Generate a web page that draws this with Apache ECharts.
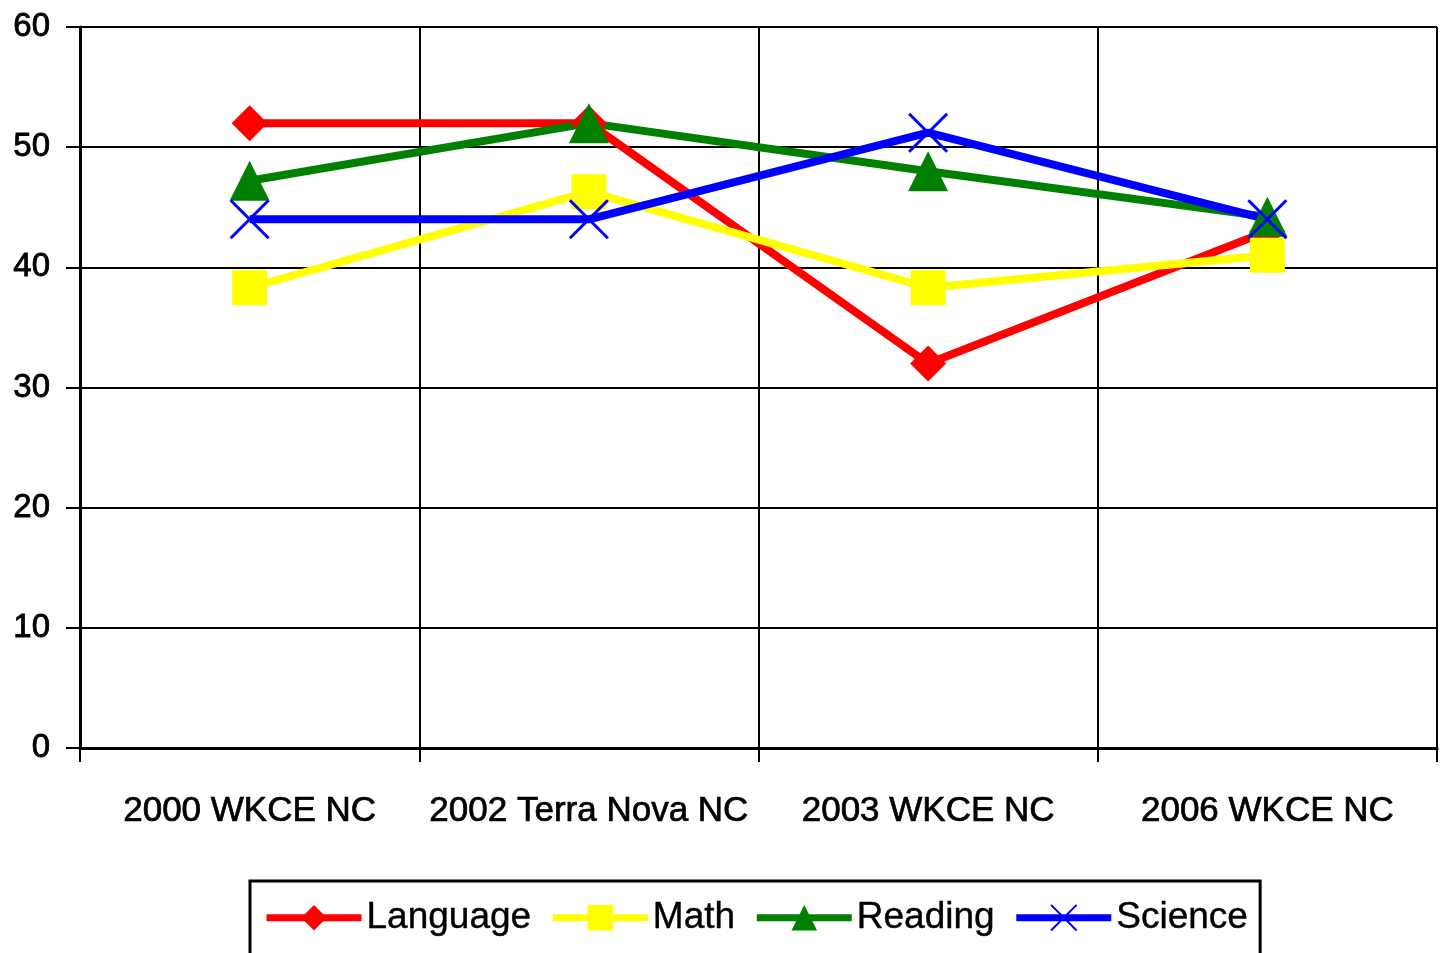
<!DOCTYPE html>
<html>
<head>
<meta charset="utf-8">
<script src="https://cdn.jsdelivr.net/npm/echarts@6/dist/echarts.min.js"></script>
<style>
  html, body { margin: 0; padding: 0; background: #fff; }
  #chart { width: 1445px; height: 953px; }
</style>
</head>
<body>
<div id="chart"></div>
<script>
const categories = ['2000 WKCE NC', '2002 Terra Nova NC', '2003 WKCE NC', '2006 WKCE NC'];
const language = [52, 52, 32, 43];
const math = [38.3, 46.3, 38.3, 41];
const reading = [47.2, 52, 48, 44.2];
const science = [44, 44, 51.2, 44];
const yTicks = [0, 10, 20, 30, 40, 50, 60];

const FONT = "'Liberation Sans Narrow', 'Arial Narrow', 'Liberation Sans', sans-serif";
const X_PATH = 'path://M0,0L10,10M10,0L0,10';

function lineSeries(name, data, color, symbol, size, extra) {
  return Object.assign({
    name: name,
    type: 'line',
    data: data,
    symbol: symbol,
    symbolSize: size,
    showAllSymbol: true,
    lineStyle: { color: color, width: 8 },
    itemStyle: { color: color, opacity: 1 },
    emphasis: { disabled: true },
    animation: false
  }, extra || {});
}

const myChart = echarts.init(document.getElementById('chart'));
const option = {
  backgroundColor: '#fff',
  animation: false,
  grid: { left: 80, right: 8, top: 27, bottom: 205, containLabel: false },
  xAxis: {
    type: 'category',
    data: categories,
    boundaryGap: true,
    axisLine: { lineStyle: { color: '#000', width: 3 } },
    axisTick: { show: true, length: 14, lineStyle: { color: '#000', width: 2 } },
    splitLine: { show: true, lineStyle: { color: '#000', width: 2 } },
    axisLabel: {
      color: '#000', fontFamily: FONT, fontSize: 35, margin: 46, interval: 0,
      textBorderColor: '#000', textBorderWidth: 0.7
    }
  },
  yAxis: {
    type: 'value',
    min: yTicks[0],
    max: yTicks[yTicks.length - 1],
    interval: 10,
    axisLine: { show: true, lineStyle: { color: '#000', width: 3 } },
    axisTick: { show: true, length: 14, lineStyle: { color: '#000', width: 2 } },
    splitLine: { show: true, lineStyle: { color: '#000', width: 2 } },
    axisLabel: {
      color: '#000', fontFamily: FONT, fontSize: 33, margin: 30,
      textBorderColor: '#000', textBorderWidth: 0.8
    }
  },
  legend: {
    left: 250,
    top: 881,
    padding: [18, 12, 20, 13],
    itemGap: 18,
    itemWidth: 95,
    itemHeight: 32,
    borderColor: '#000',
    borderWidth: 3,
    lineStyle: { width: 7 },
    textStyle: { color: '#000', fontFamily: FONT, fontSize: 37, textBorderColor: '#000', textBorderWidth: 0.4 },
    data: ['Language', 'Math', 'Reading', 'Science']
  },
  series: [
    lineSeries('Language', language, '#ff0000', 'diamond', 36),
    lineSeries('Math', math, '#ffff00', 'rect', 35),
    lineSeries('Reading', reading, '#008000', 'triangle', 40),
    lineSeries('Science', science, '#0000ff', X_PATH, 38, {
      itemStyle: { color: '#0000ff', borderColor: '#0000ff', borderWidth: 3 }
    })
  ]
};
myChart.setOption(option);
</script>
</body>
</html>
